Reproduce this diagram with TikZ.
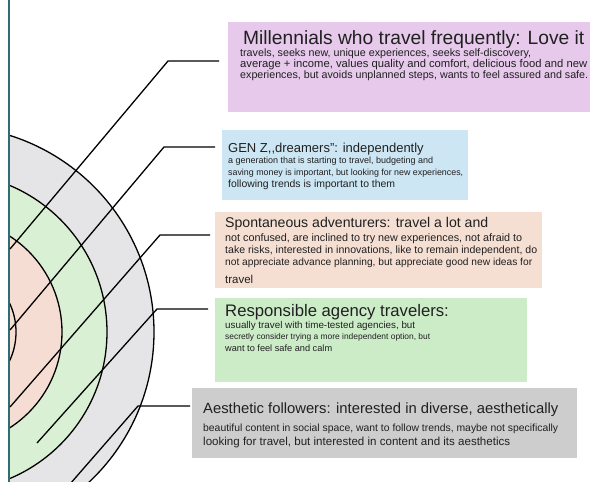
\documentclass[tikz,border=0pt]{standalone}
\usepackage{fontspec}
\usepackage{graphicx}
\setmainfont{Liberation Sans}
\definecolor{ringgray}{HTML}{E5E5E7}
\definecolor{ringgreen}{HTML}{DAF0D4}
\definecolor{ringpink}{HTML}{F6DDD4}
\definecolor{axisteal}{HTML}{2E6E73}
\definecolor{bpurple}{HTML}{E6C9EB}
\definecolor{bblue}{HTML}{CDE6F4}
\definecolor{bpeach}{HTML}{F5DFD3}
\definecolor{bgreen}{HTML}{CCECC8}
\definecolor{bgray}{HTML}{CDCDCD}
\definecolor{ink}{HTML}{202020}
\newcommand{\fitto}[2]{\resizebox{#1pt}{!}{#2}}
\begin{document}
\begin{tikzpicture}[x=1pt,y=-1pt,
  boxnode/.style={draw=none, inner sep=0pt, outer sep=0pt, anchor=north west},
  ttl/.style={anchor=base west, inner sep=0pt, text=ink},
  bdy/.style={anchor=base west, inner sep=0pt, text=ink},
  conn/.style={line width=1.3pt, black, line join=round},
  ring/.style={draw=black, line width=1.3pt}]
\useasboundingbox (0,0) rectangle (590,482);
\fill[white] (0,0) rectangle (590,482);
% concentric rings
\begin{scope}
\clip (9,0) rectangle (300,482);
\filldraw[ring, fill=ringgray] (-52,332) circle[radius=206];
\filldraw[ring, fill=ringgreen] (-52,332) circle[radius=159];
\filldraw[ring, fill=ringpink] (-52,332) circle[radius=114];
\filldraw[ring, fill=ringpink] (-52,332) circle[radius=68];
\end{scope}
\draw[axisteal, line width=1.5pt] (9,0) -- (9,482);
% boxes
\node[boxnode, fill=bpurple, minimum width=362pt, minimum height=90pt] (b1) at (228,22) {};
\node[boxnode, fill=bblue, minimum width=246pt, minimum height=70pt] (b2) at (222,130) {};
\node[boxnode, fill=bpeach, minimum width=327pt, minimum height=76pt] (b3) at (215,212) {};
\node[boxnode, fill=bgreen, minimum width=312pt, minimum height=84pt] (b4) at (215,298) {};
\node[boxnode, fill=bgray, minimum width=385pt, minimum height=70pt] (b5) at (192,388) {};
% texts box 1
\node[ttl, font=\fontsize{19.2}{20}\selectfont] (t1) at (243,44.5) {Millennials who travel frequently: Love it};
\node[bdy, font=\fontsize{10.5}{12}\selectfont] (t1a) at (240,56) {\fitto{291}{travels, seeks new, unique experiences, seeks self-discovery,}};
\node[bdy, font=\fontsize{10.5}{12}\selectfont] (t1b) at (240,67) {\fitto{347}{average + income, values quality and comfort, delicious food and new}};
\node[bdy, font=\fontsize{10.5}{12}\selectfont] (t1c) at (240,78) {\fitto{348}{experiences, but avoids unplanned steps, wants to feel assured and safe.}};
% box 2
\node[ttl, font=\fontsize{13}{14}\selectfont] (t2) at (228,152) {GEN Z,{},dreamers": independently};
\node[bdy, font=\fontsize{8.5}{10}\selectfont] (t2a) at (228,163) {\fitto{205}{a generation that is starting to travel, budgeting and}};
\node[bdy, font=\fontsize{8.5}{10}\selectfont] (t2b) at (228,175) {\fitto{235}{saving money is important, but looking for new experiences,}};
\node[bdy, font=\fontsize{9}{10}\selectfont] (t2c) at (228,187) {\fitto{167}{following trends is important to them}};
% box 3
\node[ttl, font=\fontsize{14.1}{15}\selectfont] (t3) at (225,227) {Spontaneous adventurers: travel a lot and};
\node[bdy, font=\fontsize{10}{12}\selectfont] (t3a) at (225,241) {\fitto{297}{not confused, are inclined to try new experiences, not afraid to}};
\node[bdy, font=\fontsize{10}{12}\selectfont] (t3b) at (225,253) {\fitto{312}{take risks, interested in innovations, like to remain independent, do}};
\node[bdy, font=\fontsize{10}{12}\selectfont] (t3c) at (225,265) {\fitto{307}{not appreciate advance planning, but appreciate good new ideas for}};
\node[bdy, font=\fontsize{11}{12}\selectfont] (t3d) at (225,283) {\fitto{28}{travel}};
% box 4
\node[ttl, font=\fontsize{16.7}{17}\selectfont] (t4) at (225,316) {Responsible agency travelers:};
\node[bdy, font=\fontsize{9.5}{11}\selectfont] (t4a) at (225,328) {\fitto{190}{usually travel with time-tested agencies, but}};
\node[bdy, font=\fontsize{8.3}{10}\selectfont] (t4b) at (225,339) {\fitto{205}{secretly consider trying a more independent option, but}};
\node[bdy, font=\fontsize{9.5}{11}\selectfont] (t4c) at (225,351) {\fitto{107}{want to feel safe and calm}};
% box 5
\node[ttl, font=\fontsize{14.8}{16}\selectfont] (t5) at (203,413) {Aesthetic followers: interested in diverse, aesthetically};
\node[bdy, font=\fontsize{9.6}{11}\selectfont] (t5a) at (203,431) {\fitto{355}{beautiful content in social space, want to follow trends, maybe not specifically}};
\node[bdy, font=\fontsize{10.4}{12}\selectfont] (t5b) at (203,445) {\fitto{307}{looking for travel, but interested in content and its aesthetics}};
% connectors
\coordinate (s1) at (219,61); \coordinate (k1) at (168,61); \coordinate (e1) at (10,249);
\coordinate (s2) at (215,147); \coordinate (k2) at (164,147); \coordinate (e2) at (10,330);
\coordinate (s3) at (210,235); \coordinate (k3) at (160,235); \coordinate (e3) at (10,407);
\coordinate (s4) at (208,309); \coordinate (k4) at (157,309); \coordinate (e4) at (37,443);
\coordinate (s5) at (190,406); \coordinate (k5) at (138,406); \coordinate (e5) at (70,484);
\draw[conn] (s1) -- (k1) -- (e1);
\draw[conn] (s2) -- (k2) -- (e2);
\draw[conn] (s3) -- (k3) -- (e3);
\draw[conn] (s4) -- (k4) -- (e4);
\draw[conn] (s5) -- (k5) -- (e5);
\end{tikzpicture}
\end{document}
